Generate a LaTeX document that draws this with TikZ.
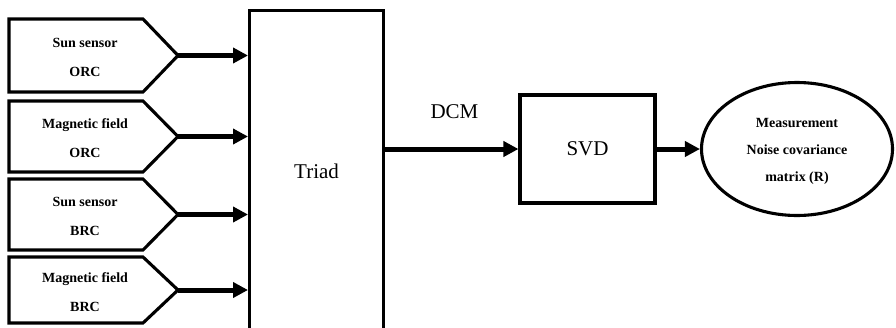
\documentclass[tikz,border=0pt]{standalone}
\usepackage{fontspec}
\setmainfont{Liberation Serif}
\usetikzlibrary{arrows.meta,shapes.geometric}
\tikzset{
  x=1pt,y=-1pt,
  boxline/.style={line width=3.1pt},
  flow/.style={line width=5pt,-{Triangle[length=15pt,width=15pt]}},
  small/.style={font=\fontsize{14}{29}\selectfont\bfseries,align=center,inner sep=0pt},
  big/.style={font=\fontsize{21}{25}\selectfont},
}
\begin{document}
\begin{tikzpicture}
\useasboundingbox (0,0) rectangle (896,327);
\clip (0,0) rectangle (896,327);
% Triad box
\node[draw,boxline,big,minimum width=134pt,minimum height=322pt,inner sep=0pt,anchor=north west] (triad) at (248,9) {Triad};
% input pentagons
\foreach \n/\t/\b/\txt in {s1/19/92/{Sun sensor\\ORC},s2/101/172/{Magnetic field\\ORC},s3/179/250/{Sun sensor\\BRC},s4/257/323/{Magnetic field\\BRC}}{
  \pgfmathsetmacro{\m}{(\t+\b)/2}
  \draw[boxline,line join=miter] (9,\t) -- (143,\t) -- (178,\m) -- (143,\b) -- (9,\b) -- cycle;
  \coordinate (\n) at (178,\m);
  \node[small] (\n t) at (85,\m+2) {\txt};
  \draw[flow] (\n) -- (triad.west |- \n);
}
% SVD
\node[draw,boxline,big,minimum width=135pt,minimum height=108pt,inner sep=0pt] (svd) at (587.5,149) {SVD};
% ellipse
\node[draw,boxline,ellipse,minimum width=191pt,minimum height=133pt,inner sep=0pt] (ell) at (797,149) {};
\node[small,font=\fontsize{14}{27}\selectfont\bfseries] (ellt) at (797,151) {Measurement\\Noise covariance\\matrix (R)};
\draw[flow] (triad.east |- svd.west) -- (svd.west) node[pos=0.52,above=24pt,big] (dcm) {DCM};
\draw[flow] (svd.east) -- (ell.west);
\end{tikzpicture}
\end{document}
